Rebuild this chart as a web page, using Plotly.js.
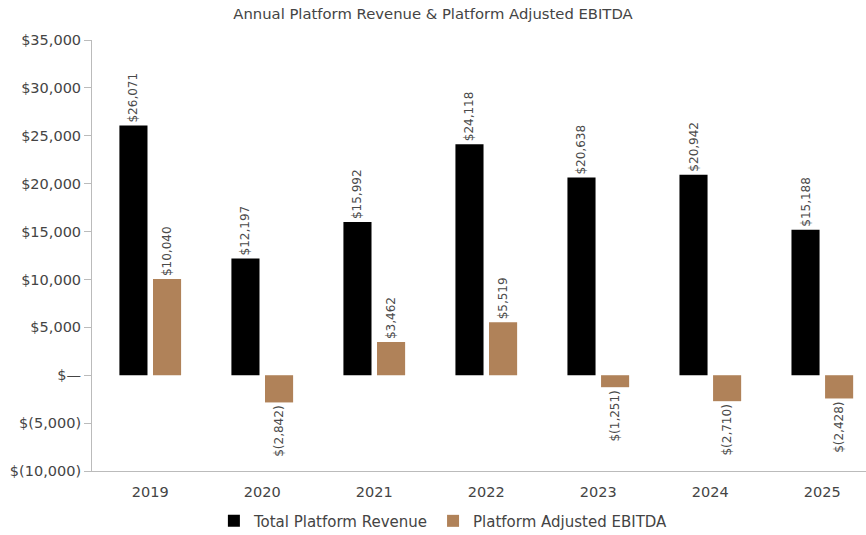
<!DOCTYPE html>
<html><head><meta charset="utf-8">
<script src="https://cdn.plot.ly/plotly-3.0.1.min.js"></script>
<style>html,body{margin:0;padding:0;background:#fff}#c{width:866px;height:535px}</style>
</head><body><div id="c"></div>
<script>
const years = ['2019','2020','2021','2022','2023','2024','2025'];
const revenue = [26071, 12197, 15992, 24118, 20638, 20942, 15188];
const ebitda = [10040, -2842, 3462, 5519, -1251, -2710, -2428];
const yTickVals = [35000, 30000, 25000, 20000, 15000, 10000, 5000, 0, -5000, -10000];
const yTickText = ['$35,000','$30,000','$25,000','$20,000','$15,000','$10,000','$5,000','$\u2014','$(5,000)','$(10,000)'];

function fmt(v){
  const s = Math.abs(v).toLocaleString('en-US');
  return v < 0 ? '$(' + s + ')' : '$' + s;
}
const font = 'DejaVu Sans, sans-serif';
const traces = [
  {type:'bar', name:'Total Platform Revenue', x:years, y:revenue,
   marker:{color:'#000000'}, text:revenue.map(fmt), textposition:'outside',
   constraintext:'none',
   textangle:-90, textfont:{size:12, color:'#4a4a4a', family:font}, cliponaxis:false},
  {type:'bar', name:'Platform Adjusted EBITDA', x:years, y:ebitda,
   marker:{color:'#b08259'}, text:ebitda.map(fmt), textposition:'outside',
   constraintext:'none',
   textangle:-90, textfont:{size:12, color:'#4a4a4a', family:font}, cliponaxis:false}
];
const layout = {
  width:866, height:535,
  margin:{l:92, r:0, t:40, b:64},
  paper_bgcolor:'#fff', plot_bgcolor:'#fff',
  font:{family:font, color:'#444'},
  title:{text:'Annual Platform Revenue & Platform Adjusted EBITDA', font:{size:14.8, color:'#444', family:font}, x:0.5, xanchor:'center', y:0.975, yanchor:'middle'},
  barmode:'group', bargap:0.40, bargroupgap:0.164,
  xaxis:{type:'category', range:[-0.52, 6.39], showline:true, linecolor:'#bbb', linewidth:1,
         ticks:'', showgrid:false, zeroline:false, tickfont:{size:14.5, color:'#444'},
         ticklabelstandoff:8, automargin:false},
  yaxis:{range:[-10000, 35000], tickvals:yTickVals, ticktext:yTickText, showline:true,
         linecolor:'#bbb', linewidth:1, ticks:'outside', ticklen:7, tickcolor:'#bbb',
         showgrid:false, zeroline:false, tickfont:{size:14.5, color:'#444'}, automargin:false},
  showlegend:true,
  legend:{orientation:'h', x:0.512, xref:'container', xanchor:'center', y:0.026, yref:'container', yanchor:'middle',
          font:{size:15, color:'#444'}, traceorder:'normal'}
};
Plotly.newPlot('c', traces, layout, {displayModeBar:false, staticPlot:true});
</script></body></html>
